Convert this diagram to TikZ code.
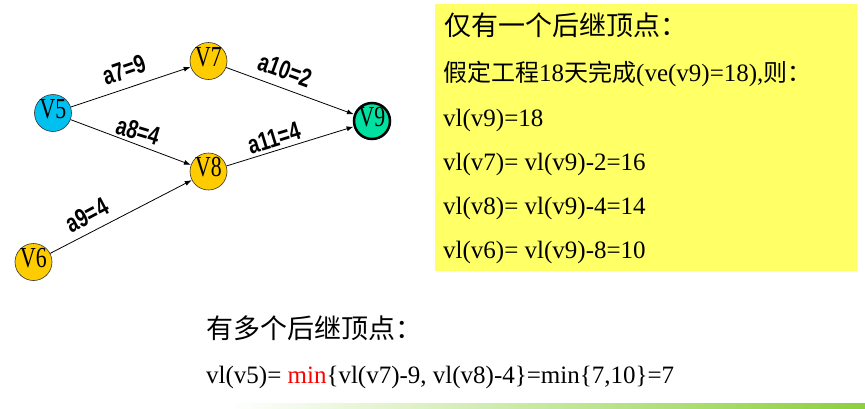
\documentclass[tikz,border=0pt]{standalone}
\usepackage{fontspec}
\setmainfont{Liberation Serif}
\newfontfamily\cjk{Noto Sans CJK SC}
\newfontfamily\vfont[FakeStretch=0.75]{Liberation Serif}
\newfontfamily\efont[FakeStretch=0.75]{Liberation Sans}
\usetikzlibrary{arrows.meta}
\definecolor{boxyellow}{RGB}{255,255,102}
\definecolor{vcyan}{RGB}{0,192,240}
\definecolor{vgold}{RGB}{255,204,0}
\definecolor{vteal}{RGB}{0,224,160}
\definecolor{bargreen}{RGB}{140,208,60}
\tikzset{
  vtx/.style={circle, draw=black!80, line width=0.6pt, minimum size=37pt, inner sep=0pt,
    label={[font=\vfont\fontsize{29}{29}\selectfont, inner sep=0pt, yshift=4pt]center:#1}},
  edge/.style={line width=0.8pt, -{Latex[length=7pt,width=5pt]}},
  elab/.style={font=\efont\bfseries\fontsize{26}{26}\selectfont, inner sep=0pt},
  txt/.style={anchor=base west, inner sep=0pt, font=\fontsize{25}{25}\selectfont},
  cjktitle/.style={anchor=base west, inner sep=0pt, font=\cjk\fontsize{27}{27}\selectfont}
}
\begin{document}
\begin{tikzpicture}[x=1pt,y=-1pt]
\useasboundingbox (0,0) rectangle (865,408);
% bottom gradient bar
\shade[left color=white, right color=bargreen] (230,403) rectangle (865,408);
% yellow box
\fill[boxyellow] (435,4) rectangle (857,271);

% vertices
\node[vtx=V5, fill=vcyan] (v5) at (53,113) {};
\node[vtx=V7, fill=vgold] (v7) at (208.5,61) {};
\node[vtx=V8, fill=vgold] (v8) at (208.5,171.5) {};
\node[vtx=V6, fill=vgold] (v6) at (33.5,262) {};
\node[vtx=V9, fill=vteal, draw=black, line width=2.5pt, minimum size=36pt] (v9) at (372,121) {};

% edges
\draw[edge] (v5) -- (v7);
\draw[edge] (v5) -- (v8);
\draw[edge] (v6) -- (v8);
\draw[edge] (v7) -- (v9);
\draw[edge] (v8) -- (v9);

% edge labels
\node[elab, rotate=19] (l7) at (124,70) {a7=9};
\node[elab, rotate=-17] (l8) at (138,131) {a8=4};
\node[elab, rotate=28] (l9) at (87,215) {a9=4};
\node[elab, rotate=-20] (l10) at (285,70) {a10=2};
\node[elab, rotate=17] (l11) at (274,138) {a11=4};

% box text
\node[cjktitle] (t1) at (444,35) {仅有一个后继顶点：};
\node[txt] (t2) at (443,81) {{\cjk\fontsize{24}{24}\selectfont 假定工程}18{\cjk\fontsize{24}{24}\selectfont 天完成}(ve(v9)=18),{\cjk\fontsize{24}{24}\selectfont 则：}};
\node[txt] (t3) at (443,126) {vl(v9)=18};
\node[txt] (t4) at (443,170) {vl(v7)= vl(v9)-2=16};
\node[txt] (t5) at (443,214) {vl(v8)= vl(v9)-4=14};
\node[txt] (t6) at (443,258) {vl(v6)= vl(v9)-8=10};

% bottom text
\node[cjktitle] (b1) at (206,338) {有多个后继顶点：};
\node[txt] (b2) at (206,383) {vl(v5)= \textcolor{red}{min}\{vl(v7)-9, vl(v8)-4\}=min\{7,10\}=7};
\end{tikzpicture}
\end{document}
